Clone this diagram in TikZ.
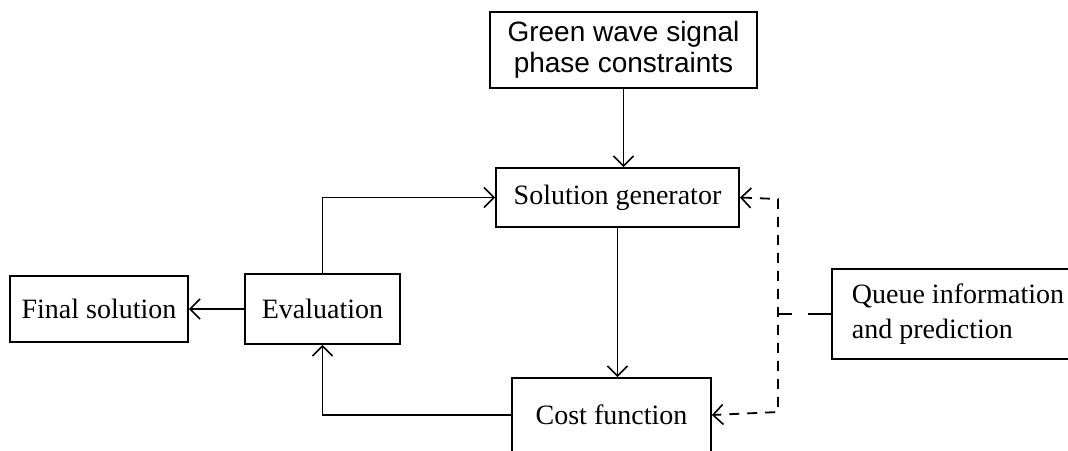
\documentclass[tikz,border=0pt]{standalone}
\usepackage{fontspec}
\setmainfont{Liberation Serif}
\newfontfamily\arialfont{Liberation Sans}
\usetikzlibrary{arrows.meta}

\begin{document}
\begin{tikzpicture}[x=0.5pt, y=-0.5pt,
        box/.style={draw, line width=0.9pt, inner sep=0pt, font=\fontsize{14}{16}\selectfont},
        barb/.tip={Straight Barb[length=5pt, width=10pt, line width=0.8pt]},
        flow/.style={line width=0.9pt, -barb},
        feed/.style={line width=0.9pt, dash pattern=on 5pt off 4pt}]

        \useasboundingbox (0, 0) rectangle (1068, 450);

        \node (green) at (623.5, 50) [box, minimum width=133.5pt, minimum height=38pt,
            align=center, font=\arialfont\fontsize{14}{15.5}\selectfont] {Green wave signal\\phase constraints};
        \node (sol) at (617.5, 197.5) [box, minimum width=121.5pt, minimum height=29.5pt] {Solution generator};
        \node (eval) at (322.5, 309) [box, minimum width=77.5pt, minimum height=35pt] {Evaluation};
        \node (final) at (99, 309) [box, minimum width=89pt, minimum height=33pt] {Final solution};
        \node (cost) at (611.5, 415) [box, minimum width=99.5pt, minimum height=37pt] {Cost function};
        \node (queue) at (831, 314) [box, anchor=west, inner xsep=10pt, minimum height=45pt,
            align=left, font=\fontsize{14}{17.5}\selectfont] {Queue information\\and prediction};

        \coordinate (dtop) at (778, 199);
        \coordinate (dbot) at (778, 412);

        \draw[flow] (green.south) -- (green.south |- sol.north);
        \draw[flow] (sol.south) -- (sol.south |- cost.north);
        \draw[flow] (eval.north) |- (sol.west);
        \draw[flow] (cost.west) -| (eval.south);
        \draw[flow] (eval.west) -- (final.east);

        \draw[feed, barb-barb] (sol.east) -- (dtop) -- (dbot) -- (cost.east);
        \draw[line width=0.9pt, dash pattern=on 7pt off 8pt on 20pt] (queue.west -| dtop) -- (queue.west);

\end{tikzpicture}
\end{document}
